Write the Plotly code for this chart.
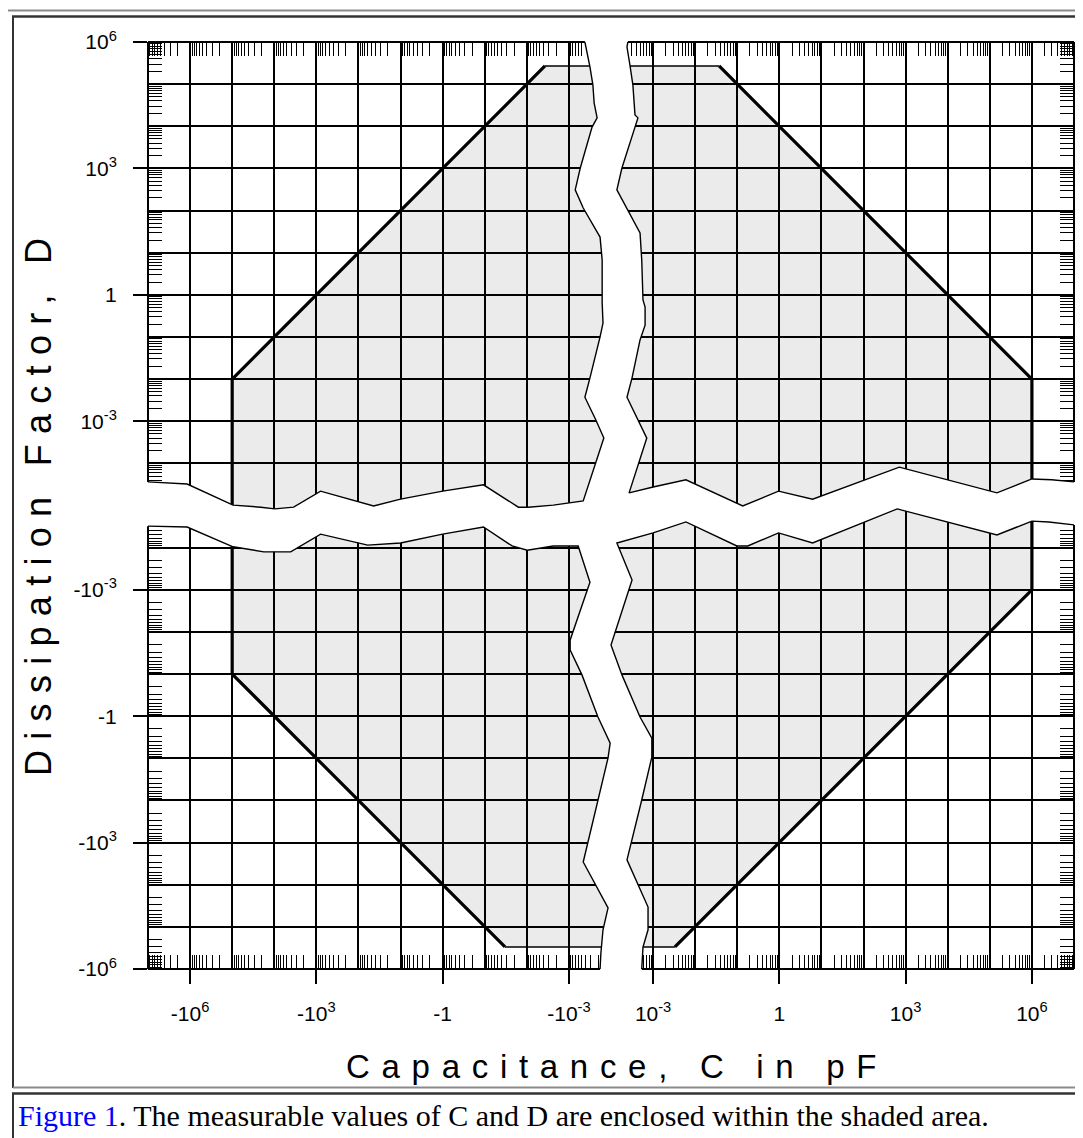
import numpy as np
import plotly.graph_objects as go

# ---------------- chart values ----------------
# labelled ticks of the broken (two-sided) logarithmic axes
x_tick_vals = [-1e6, -1e3, -1.0, -1e-3, 1e-3, 1.0, 1e3, 1e6]
x_tick_text = ["-10<sup>6</sup>", "-10<sup>3</sup>", "-1", "-10<sup>-3</sup>",
               "10<sup>-3</sup>", "1", "10<sup>3</sup>", "10<sup>6</sup>"]
y_tick_vals = [1e6, 1e3, 1.0, 1e-3, -1e-3, -1.0, -1e3, -1e6]
y_tick_text = ["10<sup>6</sup>", "10<sup>3</sup>", "1", "10<sup>-3</sup>",
               "-10<sup>-3</sup>", "-1", "-10<sup>3</sup>", "-10<sup>6</sup>"]

# decade exponents that carry a grid line (both signs)
c_grid_exp = [-3, -2, -1, 0, 1, 2, 3, 4, 5, 6]
d_grid_exp = [-4, -3, -2, -1, 0, 1, 2, 3, 4, 5, 6]

# axis extents and centre of the axis breaks
C_RANGE = [-1e7, 1e7]
D_RANGE = [-1e6, 1e6]
BREAK_C = 1e-4
BREAK_D = 1e-5

# limits of the measurable region, per quadrant (C in pF, D)
lim_TL_C = [-1e5, -1e5, -3.7e-3]
lim_TL_D = [BREAK_D, 1e-2, 2.7e5]
lim_TR_C = [3.7e-2, 1e6, 1e6]
lim_TR_D = [2.7e5, 1e-2, BREAK_D]
lim_BL_C = [-1e5, -1e5, -3.3e-2]
lim_BL_D = [-BREAK_D, -0.1, -3.0e5]
lim_BR_C = [3.3e-3, 1e6, 1e6]
lim_BR_D = [-3.0e5, -1e-3, -BREAK_D]

# torn-paper break edges (log10|C|, log10|D|) of each quadrant
brk_TL_logC = [-3.38, -3.43, -3.50, -3.57, -3.60, -3.67, -3.55, -3.27, -3.15, -3.34, -3.74, -3.79,
               -3.79, -3.81, -3.74, -3.50, -3.38, -3.64, -3.83, -3.34, -3.03, -2.63, -2.03, -1.80,
               -0.97, 0.00, 1.00, 1.64, 2.90, 3.54, 3.99, 4.32, 4.98, 6.07, 7.00]
brk_TL_logD = [6.00, 5.76, 5.41, 4.98, 4.55, 4.20, 3.98, 3.01, 2.49, 2.06, 1.37, 0.83,
               -0.19, -0.67, -1.00, -1.97, -2.43, -2.97, -3.40, -4.89, -4.94, -4.99, -5.04, -5.04,
               -4.51, -4.66, -4.85, -5.01, -4.66, -5.04, -5.08, -5.04, -4.99, -4.49, -4.44]
brk_TR_logC = [-3.60, -3.62, -3.55, -3.48, -3.43, -3.36, -3.43, -3.74, -3.86, -3.31, -3.27, -3.24,
               -3.19, -3.19, -3.31, -3.50, -3.62, -3.36, -3.15, -3.57, -3.00, -2.22, -0.87, -0.02,
               0.79, 2.85, 5.17, 6.00, 6.47, 7.00]
brk_TR_logD = [6.00, 5.88, 5.45, 4.98, 4.27, 4.20, 3.98, 3.01, 2.49, 1.47, 0.83, -0.12,
               -0.29, -0.72, -1.07, -1.97, -2.43, -2.97, -3.40, -4.70, -4.56, -4.39, -5.01, -4.66,
               -4.85, -4.09, -4.70, -4.37, -4.39, -4.44]
brk_BL_logC = [7.00, 6.07, 4.98, 4.25, 3.61, 2.90, 1.78, 1.00, 0.00, -0.97, -1.65, -2.01, -2.63,
               -3.22, -3.50, -3.03, -3.03, -3.31, -3.69, -3.98, -3.93, -3.69, -3.34, -3.93, -3.81,
               -3.76, -3.74]
brk_BL_logD = [-4.51, -4.49, -4.02, -3.90, -3.90, -4.32, -4.06, -4.11, -4.32, -4.49, -4.04, -3.94,
               -4.04, -4.04, -3.18, -1.81, -1.57, -0.98, 0.02, 0.64, 0.99, 1.99, 3.46, 4.55, 5.07,
               5.62, 6.00]
brk_BR_logC = [7.00, 6.40, 6.00, 5.17, 2.80, 0.79, -0.02, -0.75, -1.01, -2.22, -3.00, -3.86, -3.50,
               -3.91, -4.00, -3.74, -3.31, -3.03, -3.03, -3.27, -3.62, -3.12, -3.12, -3.24, -3.27]
brk_BR_logD = [-4.54, -4.61, -4.63, -4.30, -4.92, -4.11, -4.35, -4.04, -4.04, -4.61, -4.35, -4.11,
               -3.23, -2.00, -1.69, -0.98, 0.02, 0.52, 0.97, 1.99, 3.41, 4.53, 5.07, 5.48, 6.00]

X_TITLE = "Capacitance, C in pF"
Y_TITLE = "Dissipation Factor, D"
CAPTION_LINK = "Figure 1"
CAPTION_TEXT = ". The measurable values of C and D are enclosed within the shaded area."

# ---------------- styling / page geometry ----------------
SHADE = "#ebebeb"
INK = "black"
OFF = 8                      # browser body margin in front of the figure div
PAGE_W, PAGE_H = 1083, 1138
W, H = PAGE_W - OFF, PAGE_H - OFF
ML, MT = 148 - OFF, 42 - OFF
PW, PH = 926, 927
MR, MB = W - ML - PW, H - MT - PH


# broken-axis scales: signed decades measured from the break centre
def xu(c):
    c = np.asarray(c, dtype=float)
    return np.sign(c) * (np.log10(np.abs(c)) - np.log10(BREAK_C))


def yv(d):
    d = np.asarray(d, dtype=float)
    return np.sign(d) * (np.log10(np.abs(d)) - np.log10(BREAK_D))


def edge(logc, logd, sc, sd):
    c = sc * np.power(10.0, logc)
    d = sd * np.power(10.0, logd)
    return xu(c), yv(d)


# page-pixel helpers for decorations outside the plot
def px(xp):
    return (xp - OFF - ML) / PW


def py(yp):
    return (MT + PH - (yp - OFF)) / PH


TLx, TLy = edge(brk_TL_logC, brk_TL_logD, -1, 1)
TRx, TRy = edge(brk_TR_logC, brk_TR_logD, 1, 1)
BLx, BLy = edge(brk_BL_logC, brk_BL_logD, -1, -1)
BRx, BRy = edge(brk_BR_logC, brk_BR_logD, 1, -1)

xr = [float(xu(C_RANGE[0])), float(xu(C_RANGE[1]))]
yr = [float(yv(D_RANGE[0])), float(yv(D_RANGE[1]))]

fig = go.Figure()

# limit lines (thick), drawn before the break mask so the mask trims them
for cs, ds in [(lim_TL_C, lim_TL_D), (lim_TR_C, lim_TR_D), (lim_BL_C, lim_BL_D), (lim_BR_C, lim_BR_D)]:
    fig.add_trace(go.Scatter(x=xu(cs), y=yv(ds), mode="lines",
                             line=dict(color=INK, width=3.2), hoverinfo="skip", showlegend=False))
# thin D limit lines running into the break
for cs, ds, gapc, idx in [(lim_TL_C, lim_TL_D, -BREAK_C, -1), (lim_TR_C, lim_TR_D, BREAK_C, 0),
                          (lim_BL_C, lim_BL_D, -BREAK_C, -1), (lim_BR_C, lim_BR_D, BREAK_C, 0)]:
    fig.add_trace(go.Scatter(x=xu([cs[idx], gapc]), y=yv([ds[idx], ds[idx]]), mode="lines",
                             line=dict(color=INK, width=1.5), hoverinfo="skip", showlegend=False))

# white mask of the axis breaks (cross-shaped gap)
mask_x = np.concatenate([TLx, BLx, BRx[::-1], TRx[::-1]])
mask_y = np.concatenate([TLy, BLy, BRy[::-1], TRy[::-1]])
fig.add_trace(go.Scatter(x=mask_x, y=mask_y, mode="lines", fill="toself", fillcolor="white",
                         line=dict(color="white", width=0), hoverinfo="skip", showlegend=False))

# torn edges
for ex, ey in [(TLx, TLy), (TRx, TRy), (BLx, BLy), (BRx, BRy)]:
    fig.add_trace(go.Scatter(x=ex, y=ey, mode="lines", line=dict(color=INK, width=1.4),
                             hoverinfo="skip", showlegend=False))

# dummy traces so the overlay axes (inner comb ticks) are drawn
fig.add_trace(go.Scatter(x=[None], y=[None], xaxis="x2", yaxis="y2", showlegend=False, hoverinfo="skip"))
fig.add_trace(go.Scatter(x=[None], y=[None], xaxis="x3", yaxis="y3", showlegend=False, hoverinfo="skip"))

# shaded measurable regions (below the grid)
shade_polys = [
    ([lim_TL_C[0]] + lim_TL_C + [-BREAK_C, -BREAK_C], [BREAK_D] + lim_TL_D + [lim_TL_D[-1], BREAK_D]),
    ([BREAK_C] + lim_TR_C + [BREAK_C], [lim_TR_D[0]] + lim_TR_D + [BREAK_D]),
    (lim_BL_C + [-BREAK_C, -BREAK_C], lim_BL_D + [lim_BL_D[-1], -BREAK_D]),
    ([BREAK_C] + lim_BR_C + [BREAK_C], [lim_BR_D[0]] + lim_BR_D + [-BREAK_D]),
]
shapes = []
for cs, ds in shade_polys:
    ux, vy = xu(cs), yv(ds)
    path = "M " + " L ".join(f"{a:.4f},{b:.4f}" for a, b in zip(ux, vy)) + " Z"
    shapes.append(dict(type="path", path=path, xref="x", yref="y", layer="below",
                       fillcolor=SHADE, line=dict(width=0)))

# frame segments (broken by the torn gaps)
fl = dict(color=INK, width=2)
shapes += [
    dict(type="line", xref="x", yref="paper", x0=xr[0], x1=float(TLx[0]), y0=1, y1=1, line=fl),
    dict(type="line", xref="x", yref="paper", x0=float(TRx[0]), x1=xr[1], y0=1, y1=1, line=fl),
    dict(type="line", xref="x", yref="paper", x0=xr[0], x1=float(BLx[-1]), y0=0, y1=0, line=fl),
    dict(type="line", xref="x", yref="paper", x0=float(BRx[-1]), x1=xr[1], y0=0, y1=0, line=fl),
    dict(type="line", xref="paper", yref="y", x0=0, x1=0, y0=float(TLy[-1]), y1=yr[1], line=fl),
    dict(type="line", xref="paper", yref="y", x0=0, x1=0, y0=yr[0], y1=float(BLy[0]), line=fl),
    dict(type="line", xref="paper", yref="y", x0=1, x1=1, y0=float(TRy[-1]), y1=yr[1], line=fl),
    dict(type="line", xref="paper", yref="y", x0=1, x1=1, y0=yr[0], y1=float(BRy[0]), line=fl),
]

# page / table borders (page pixels)
light, dark = "#8a8a8a", "#333333"
def hline(y, x0, x1, col, w=2):
    return dict(type="line", xref="paper", yref="paper", x0=px(x0), x1=px(x1), y0=py(y), y1=py(y),
                line=dict(color=col, width=w))
def vline(x, y0, y1, col, w=2):
    return dict(type="line", xref="paper", yref="paper", x0=px(x), x1=px(x), y0=py(y0), y1=py(y1),
                line=dict(color=col, width=w))
shapes += [
    hline(10.5, 6, 1083, light), vline(6.5, 10, 1138, light),
    hline(16.5, 12, 1079, dark, 2.5), vline(13, 16, 1088, dark),
    hline(1087.5, 13, 1079, light), vline(1078.5, 16, 1088, light),
    hline(1093.5, 12, 1079, dark, 2.5), vline(13, 1093, 1138, dark),
    vline(1078.5, 1093, 1138, light),
]

# comb (inner minor) ticks at k*10^n on each frame edge, outside the torn gaps
ks = [2, 3, 4, 5, 6, 7, 8, 9]
def comb(lo_neg, hi_pos, exps, scale, lim):
    vals = []
    for n in exps:
        for k in ks:
            for s in (-1, 1):
                t = float(scale(s * k * 10.0 ** n))
                if abs(t) >= lim:
                    continue
                if (s < 0 and t < lo_neg) or (s > 0 and t > hi_pos):
                    vals.append(t)
    return vals

cexps = list(range(-5, 7))
dexps = list(range(-6, 6))
top_comb = comb(float(TLx[0]) - 0.02, float(TRx[0]) + 0.02, cexps, xu, xr[1])
bot_comb = comb(float(BLx[-1]) - 0.02, float(BRx[-1]) + 0.02, cexps, xu, xr[1])
left_comb = comb(float(BLy[0]) - 0.02, float(TLy[-1]) + 0.02, dexps, yv, yr[1])
right_comb = comb(float(BRy[0]) - 0.02, float(TRy[-1]) + 0.02, dexps, yv, yr[1])

grid_c = [s * 10.0 ** e for s in (-1, 1) for e in c_grid_exp]
grid_d = [s * 10.0 ** e for s in (-1, 1) for e in d_grid_exp]
minor_x = [float(v) for v in xu(grid_c) if not np.any(np.isclose(v, xu(x_tick_vals)))]
minor_y = [float(v) for v in yv(grid_d) if not np.any(np.isclose(v, yv(y_tick_vals)))
           and abs(v) < yr[1] - 0.01]

tickfont = dict(family="Liberation Sans", size=21, color=INK)
comb_common = dict(showgrid=False, zeroline=False, showticklabels=False, ticks="inside",
                   ticklen=14, tickwidth=1.3, tickcolor=INK, tickmode="array", showline=False,
                   fixedrange=True)

fig.update_layout(
    width=W, height=H,
    margin=dict(l=ML, r=MR, t=MT, b=MB, pad=0),
    paper_bgcolor="white", plot_bgcolor="white",
    font=dict(family="Liberation Sans", color=INK),
    showlegend=False,
    xaxis=dict(range=xr, tickmode="array", tickvals=list(xu(x_tick_vals)), ticktext=x_tick_text,
               ticks="outside", ticklen=14, tickwidth=1.5, tickcolor=INK, tickfont=tickfont,
               ticklabelstandoff=12,
               showgrid=True, gridcolor=INK, gridwidth=2, zeroline=False, showline=False,
               minor=dict(tickmode="array", tickvals=minor_x, showgrid=True, gridcolor=INK,
                          gridwidth=2, ticks=""),
               fixedrange=True),
    yaxis=dict(range=yr, tickmode="array", tickvals=list(yv(y_tick_vals)), ticktext=y_tick_text,
               ticks="outside", ticklen=14, tickwidth=1.5, tickcolor=INK, tickfont=tickfont,
               ticklabelstandoff=12,
               showgrid=True, gridcolor=INK, gridwidth=2, zeroline=False, showline=False,
               minor=dict(tickmode="array", tickvals=minor_y, showgrid=True, gridcolor=INK,
                          gridwidth=2, ticks=""),
               fixedrange=True),
    xaxis2=dict(range=xr, overlaying="x", side="top", anchor="y2", tickvals=top_comb, **comb_common),
    yaxis2=dict(range=yr, overlaying="y", side="left", anchor="x2", tickvals=left_comb, **comb_common),
    xaxis3=dict(range=xr, overlaying="x", side="bottom", anchor="y3", tickvals=bot_comb, **comb_common),
    yaxis3=dict(range=yr, overlaying="y", side="right", anchor="x3", tickvals=right_comb, **comb_common),
    shapes=shapes,
)

def spaced(t, sp):
    return f'<span style="letter-spacing:{sp}px">{t}</span>'

fig.add_annotation(text=spaced(X_TITLE, 11.7), xref="paper", yref="paper", x=px(617), y=py(1066),
                   xanchor="center", yanchor="middle", showarrow=False,
                   font=dict(family="Liberation Sans", size=33, color=INK))
fig.add_annotation(text=spaced(Y_TITLE, 10.3), xref="paper", yref="paper", x=px(38), y=py(502),
                   xanchor="center", yanchor="middle", showarrow=False, textangle=-90,
                   font=dict(family="Liberation Sans", size=36, color=INK))
fig.add_annotation(text=f'<span style="color:#0000ff">{CAPTION_LINK}</span>{CAPTION_TEXT}',
                   xref="paper", yref="paper", x=px(16), y=py(1115), xanchor="left", yanchor="middle",
                   showarrow=False, font=dict(family="Liberation Serif", size=30, color=INK))

fig.write_html("out.html")
